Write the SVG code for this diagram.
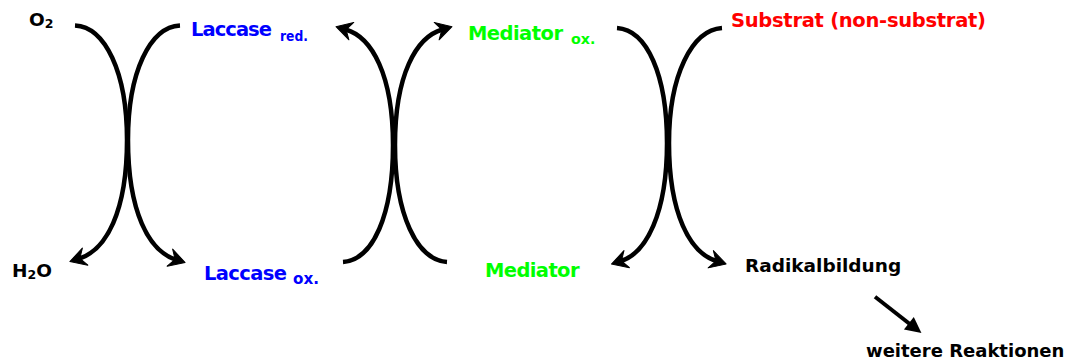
<svg xmlns="http://www.w3.org/2000/svg" width="1071" height="360" viewBox="0 0 1071 360">
  <style>
    .t { font-family: "DejaVu Sans", Verdana, sans-serif; font-weight: bold; }
    .k { fill: #000000; }
    .b { fill: #0000FF; }
    .g { fill: #00FF00; }
    .r { fill: #FF0000; }
    .c { fill: none; stroke: #000000; stroke-width: 4.5; marker-end: url(#curveHead); }
    .s { fill: none; stroke: #000000; stroke-width: 4; marker-end: url(#triHead); }
  </style>
  <defs>
    <marker id="curveHead" markerUnits="userSpaceOnUse" orient="auto" viewBox="-18 -11 32 22" refX="-10" refY="0" markerWidth="32" markerHeight="22">
      <path d="M0,0 L-16,-9 L-10.5,0 L-16,9 Z" fill="#000000" stroke="#000000" stroke-width="1" stroke-linejoin="round"/>
    </marker>
    <marker id="triHead" markerUnits="userSpaceOnUse" orient="auto" viewBox="-18 -10 20 20" refX="-12" refY="0" markerWidth="20" markerHeight="20">
      <path d="M0,0 L-16,-8 L-16,8 Z" fill="#000000"/>
    </marker>
  </defs>

  <g id="connectors">
    <path class="c" d="M75,25.5 C105,27 127,72 127,140 C127,212 106,250 79.4,258.5"/>
    <path class="c" d="M180,25.5 C150,27 128,72 128,140 C128,212 149,251 175.6,259.5"/>
    <path class="c" d="M343,262 C373,260 393,215 393,145 C393,75 372,37 345.6,29.5"/>
    <path class="c" d="M447,262 C417,260 395,215 395,145 C395,75 416,37 442.4,29.5"/>
    <path class="c" d="M617,28 C647,30 667,75 667,143 C667,214 646,253 621,261"/>
    <path class="c" d="M722,28 C692,30 669,75 669,143 C669,214 690,253 716.5,261"/>
    <path class="s" d="M875,296.7 L912,325.7"/>
  </g>

  <g id="o2">
    <text class="t k" x="29" y="26" font-size="18.5">O<tspan font-size="12.5" dy="2">2</tspan></text>
  </g>
  <g id="h2o">
    <text class="t k" x="12" y="276.7" font-size="18.5">H<tspan font-size="12.5" dy="2">2</tspan><tspan dy="-2" font-size="18.5">O</tspan></text>
  </g>
  <g id="laccase-red">
    <text class="t b" x="191" y="36" font-size="19.5" textLength="81" lengthAdjust="spacing">Laccase</text>
    <text class="t b" x="280" y="40.5" font-size="14" textLength="28" lengthAdjust="spacingAndGlyphs">red.</text>
  </g>
  <g id="laccase-ox">
    <text class="t b" x="204" y="280" font-size="19.5" textLength="83" lengthAdjust="spacing">Laccase</text>
    <text class="t b" x="293" y="283.5" font-size="15" textLength="26" lengthAdjust="spacingAndGlyphs">ox.</text>
  </g>
  <g id="mediator-ox">
    <text class="t g" x="468" y="40" font-size="19.5" textLength="95" lengthAdjust="spacing">Mediator</text>
    <text class="t g" x="571" y="43.5" font-size="14.5" textLength="24.5" lengthAdjust="spacingAndGlyphs">ox.</text>
  </g>
  <g id="mediator">
    <text class="t g" x="485" y="276.7" font-size="19.5" textLength="94.5" lengthAdjust="spacing">Mediator</text>
  </g>
  <g id="substrat">
    <text class="t r" x="731" y="26.7" font-size="19.5" textLength="255" lengthAdjust="spacing">Substrat (non-substrat)</text>
  </g>
  <g id="radikalbildung">
    <text class="t k" x="745" y="271.7" font-size="18.5">Radikalbildung</text>
  </g>
  <g id="weitere">
    <text class="t k" x="866" y="357" font-size="18">weitere Reaktionen</text>
  </g>
</svg>
